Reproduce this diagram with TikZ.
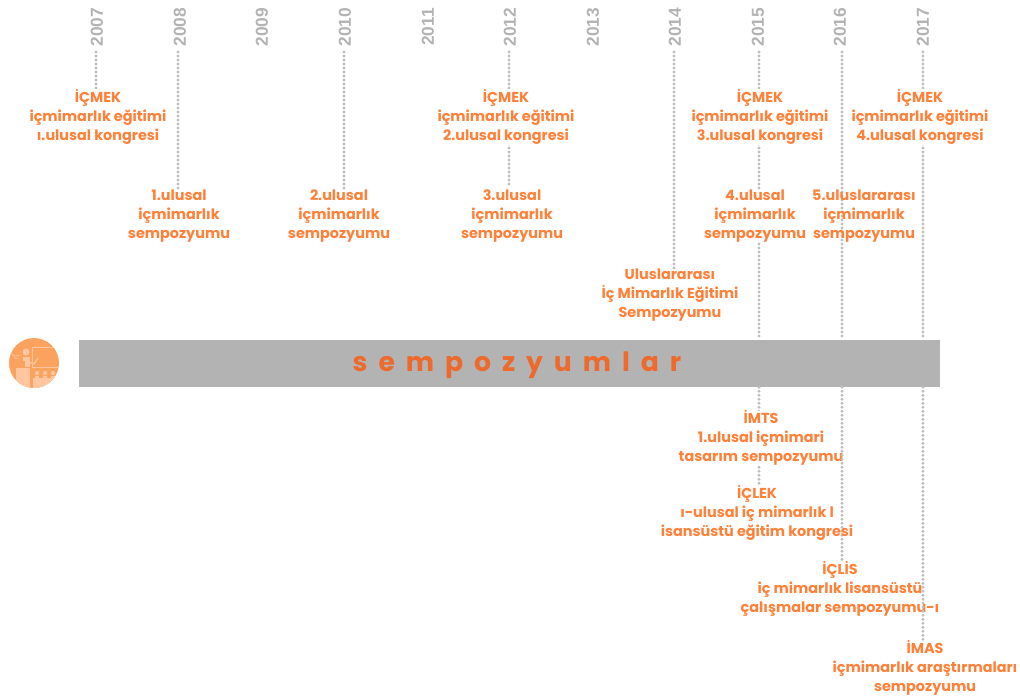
\documentclass[tikz,border=0pt]{standalone}
\usepackage{fontspec}
\setmainfont{Poppins}
\newfontfamily\yearfont{Liberation Sans}
\definecolor{evtorange}{HTML}{FF8038}
\definecolor{titleorange}{HTML}{EE6A2C}
\definecolor{bargray}{HTML}{B3B3B3}
\definecolor{dotgray}{HTML}{BEBEBE}
\definecolor{iconorange}{HTML}{FBA25F}
\definecolor{iconlight}{HTML}{FFC6A0}
\tikzset{
  evt/.style={align=center, inner sep=0pt, text=evtorange, font=\fontsize{10.8}{14.25}\selectfont\bfseries},
  evtbox/.style={evt, fill=white},
  dotline/.style={draw=dotgray, line width=2.4pt, line cap=round, dash pattern=on 0pt off 3pt},
  yearlabel/.style={rotate=90, inner sep=0pt, text=bargray, font=\yearfont\fontsize{13}{14}\selectfont\bfseries}
}
\begin{document}
\begin{tikzpicture}[x=0.75pt, y=-0.75pt]
\useasboundingbox (0,0) rectangle (1020,697);

% Year labels along the top, with the start of each dotted line
\foreach \yr/\xl/\xd in {2007/97/96, 2008/180/178, 2009/262/262, 2010/345/344, 2011/428/428, 2012/510/509, 2013/593/593, 2014/675/674, 2015/758/759, 2016/840/842, 2017/923/923} {
  \node[yearlabel] (y\yr) at (\xl, 27) {\yr};
  \coordinate (t\yr) at (\xd, 52);
}

% The bar
\node[fill=bargray, minimum width=645.75pt, minimum height=35.25pt, inner sep=0pt] (bar) at (509.5, 363.5) {};
\node[inner sep=0pt, text=titleorange, font=\fontsize{20}{24}\selectfont\bfseries] (title) at (517, 365) {\spaceskip=8.2pt s e m p o z y u m l a r};

% Targets of the dotted lines
\node[evtbox] (sempA) at (179, 216) {1.ulusal\\içmimarlık\\sempozyumu};
\node[evtbox] (sempB) at (339, 216) {2.ulusal\\içmimarlık\\sempozyumu};
\node[evt] (uluslar) at (670, 295) {Uluslararası\\İç Mimarlık Eğitimi\\Sempozyumu};
\coordinate (endA) at (t2007 |- 0, 88);
\coordinate (endC) at (t2012 |- 0, 186);

\draw[dotline] (t2007) -- (endA);
\draw[dotline] (t2008) -- (t2008 |- sempA.north);
\draw[dotline] (t2010) -- (t2010 |- sempB.north);
\draw[dotline] (t2012) -- (endC);
\draw[dotline] (t2014) -- (t2014 |- uluslar.north);
\draw[dotline] (t2015) -- (t2015 |- bar.north);
\draw[dotline] (t2017) -- (t2017 |- bar.north);
\draw[dotline] (t2015 |- bar.south) -- (t2015 |- 0, 484);

% Upper events, white boxes hide the lines behind them
\node[evtbox] (icmekA) at (98, 117) {İÇMEK\\içmimarlık eğitimi\\ı.ulusal kongresi};
\node[evtbox] (icmekB) at (506, 117) {İÇMEK\\içmimarlık eğitimi\\2.ulusal kongresi};
\node[evtbox] (icmekC) at (760, 117) {İÇMEK\\içmimarlık eğitimi\\3.ulusal kongresi};
\node[evtbox] (icmekD) at (920, 117) {İÇMEK\\içmimarlık eğitimi\\4.ulusal kongresi};
\node[evtbox] (sempC) at (512, 216) {3.ulusal\\içmimarlık\\sempozyumu};
\node[evtbox] (sempD) at (755, 216) {4.ulusal\\içmimarlık\\sempozyumu};
\node[evtbox] (imts) at (761, 438) {İMTS\\1.ulusal içmimari\\tasarım sempozyumu};

% These lines run behind the text
\draw[dotline] (t2016) -- (t2016 |- bar.north);
\node[evt] (iclis) at (840, 589) {İÇLİS\\iç mimarlık lisansüstü\\çalışmalar sempozyumu-ı};
\node[evt] (imas) at (925, 668) {İMAS\\içmimarlık araştırmaları\\sempozyumu};
\draw[dotline] (t2016 |- bar.south) -- (t2016 |- iclis.north);
\draw[dotline] (t2017 |- bar.south) -- (t2017 |- imas.north);
\node[evt] (sempE) at (864, 216) {5.uluslararası\\içmimarlık\\sempozyumu};
\node[evt] (iclek) at (757, 513) {İÇLEK\\ı-ulusal iç mimarlık l\\isansüstü eğitim kongresi};

% Icon
\fill[iconorange] (34, 363) circle (25);
\begin{scope}
\clip (34, 363) circle (25);
\fill[iconlight] (16, 368) rectangle (30, 390);
\fill[iconlight] (33, 378) rectangle (60, 390);
\fill[iconlight] (35, 376) rectangle (39, 380);
\fill[iconlight] (43, 376) rectangle (47, 380);
\fill[iconlight] (51, 376) rectangle (55, 380);
\fill[iconlight] (37, 373) circle (2.2);
\fill[iconlight] (45, 373) circle (2.2);
\fill[iconlight] (53, 373) circle (2.2);
\draw[iconlight, line width=0.7pt] (32, 347) rectangle (60, 367);
\fill[iconlight] (26, 352) circle (3.5);
\fill[iconlight] (23, 357) rectangle (30, 367);
\draw[iconlight, line width=1pt] (29, 362) -- (34, 364) -- (38, 358);
\fill[iconorange] (19, 361) rectangle (25, 367);
\draw[iconlight, line width=0.5pt] (19, 358) arc (60:150:4);
\draw[iconlight, line width=0.5pt] (20, 355) arc (60:150:7);
\end{scope}
\end{tikzpicture}
\end{document}
